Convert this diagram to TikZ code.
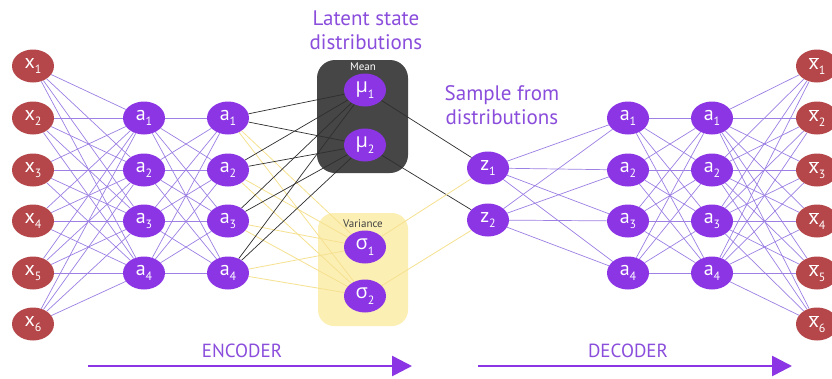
\documentclass[tikz,border=0pt]{standalone}
\usepackage{fontspec}
\setmainfont{PT Sans}
\newfontfamily\grk{Open Sans}
\usetikzlibrary{arrows.meta,shapes.geometric}
\definecolor{nred}{HTML}{B5474A}
\definecolor{npur}{HTML}{8B35E5}
\definecolor{epur}{HTML}{9C80E3}
\definecolor{eyel}{HTML}{F6E190}
\definecolor{eblk}{HTML}{2E2E2E}
\definecolor{boxdark}{HTML}{464646}
\definecolor{boxyel}{HTML}{FCEFB4}
\definecolor{tpur}{HTML}{8A4DDC}
\pgfdeclarelayer{bg}\pgfdeclarelayer{edges}\pgfsetlayers{bg,edges,main}
\newcommand\nsub[2]{#1\raisebox{-0.55ex}{\fontsize{12}{12}\selectfont #2}}
\newcommand\xbar[1]{\nsub{$\overline{\mbox{x}}$}{#1}}
\begin{document}
\begin{tikzpicture}[x=1pt,y=-1pt,
  nodebase/.style={ellipse, text=white, minimum width=42pt, minimum height=33pt, inner sep=0pt, font=\fontsize{20}{20}\selectfont},
  rnode/.style={nodebase, fill=nred},
  pnode/.style={nodebase, fill=npur},
  pedge/.style={draw=epur, line width=0.7pt},
  yedge/.style={draw=eyel, line width=0.8pt},
  kedge/.style={draw=eblk, line width=0.7pt},
  bigarrow/.style={draw=npur, line width=2.6pt, -{Triangle[length=20pt,width=20pt]}},
  headtext/.style={text=tpur, font=\fontsize{21}{24}\selectfont, align=center},
  armtext/.style={text=tpur, font=\fontsize{19}{19}\selectfont}]
\useasboundingbox (0,0) rectangle (832,378);
\begin{pgfonlayer}{bg}
\fill[white] (0,0) rectangle (832,378);
\fill[boxdark, rounded corners=18pt] (317,60) rectangle (408,173);
\fill[boxyel, rounded corners=16pt] (318,213) rectangle (408,326);
\end{pgfonlayer}
\node[text=white, font=\fontsize{11}{11}\selectfont] (meanlbl) at (363,67) {Mean};
\node[text=black!75, font=\fontsize{11}{11}\selectfont] (varlbl) at (363,224) {Variance};
\foreach \i/\y in {1/66,2/118,3/170,4/221,5/273,6/324} {
  \node[rnode] (x\i) at (33,\y) {\nsub{x}{\i}};
  \node[rnode] (y\i) at (817,\y) {\xbar{\i}};
}
\foreach \i/\y in {1/118,2/170,3/221,4/273} {
  \node[pnode] (ea\i) at (144,\y) {\nsub{a}{\i}};
  \node[pnode] (eb\i) at (228,\y) {\nsub{a}{\i}};
  \node[pnode] (da\i) at (628,\y) {\nsub{a}{\i}};
  \node[pnode] (db\i) at (712,\y) {\nsub{a}{\i}};
}
\node[pnode] (mu1) at (365,90) {\nsub{{\grk μ}}{1}};
\node[pnode] (mu2) at (365,145) {\nsub{{\grk μ}}{2}};
\node[pnode] (s1) at (365,247) {\nsub{{\grk σ}}{1}};
\node[pnode] (s2) at (365,296) {\nsub{{\grk σ}}{2}};
\node[pnode] (z1) at (488,168) {\nsub{z}{1}};
\node[pnode] (z2) at (488,220) {\nsub{z}{2}};
\begin{pgfonlayer}{edges}
\foreach \i in {1,...,6} \foreach \j in {1,...,4} {
  \draw[pedge] (x\i) -- (ea\j);
  \draw[pedge] (db\j) -- (y\i);
}
\foreach \i in {1,...,4} \foreach \j in {1,...,4} {
  \draw[pedge] (ea\i) -- (eb\j);
  \draw[pedge] (da\i) -- (db\j);
}
\foreach \i in {1,...,4} \foreach \j in {1,2} {
  \draw[yedge] (eb\i) -- (s\j);
  \draw[kedge] (eb\i) -- (mu\j);
  \draw[pedge] (z\j) -- (da\i);
}
\draw[kedge] (mu1) -- (z1);
\draw[kedge] (mu2) -- (z2);
\draw[yedge] (s1) -- (z1);
\draw[yedge] (s2) -- (z2);
\end{pgfonlayer}
\node[headtext] (latent) at (366,30) {Latent state\\distributions};
\node[headtext] (sample) at (502,105) {Sample from\\distributions};
\coordinate (encS) at (88,366);
\coordinate (encE) at (412,366);
\coordinate (decS) at (478,366);
\coordinate (decE) at (792,366);
\draw[bigarrow] (encS) -- (encE);
\draw[bigarrow] (decS) -- (decE);
\node[armtext] (enc) at (242,351) {ENCODER};
\node[armtext] (dec) at (628,351) {DECODER};
\end{tikzpicture}
\end{document}
